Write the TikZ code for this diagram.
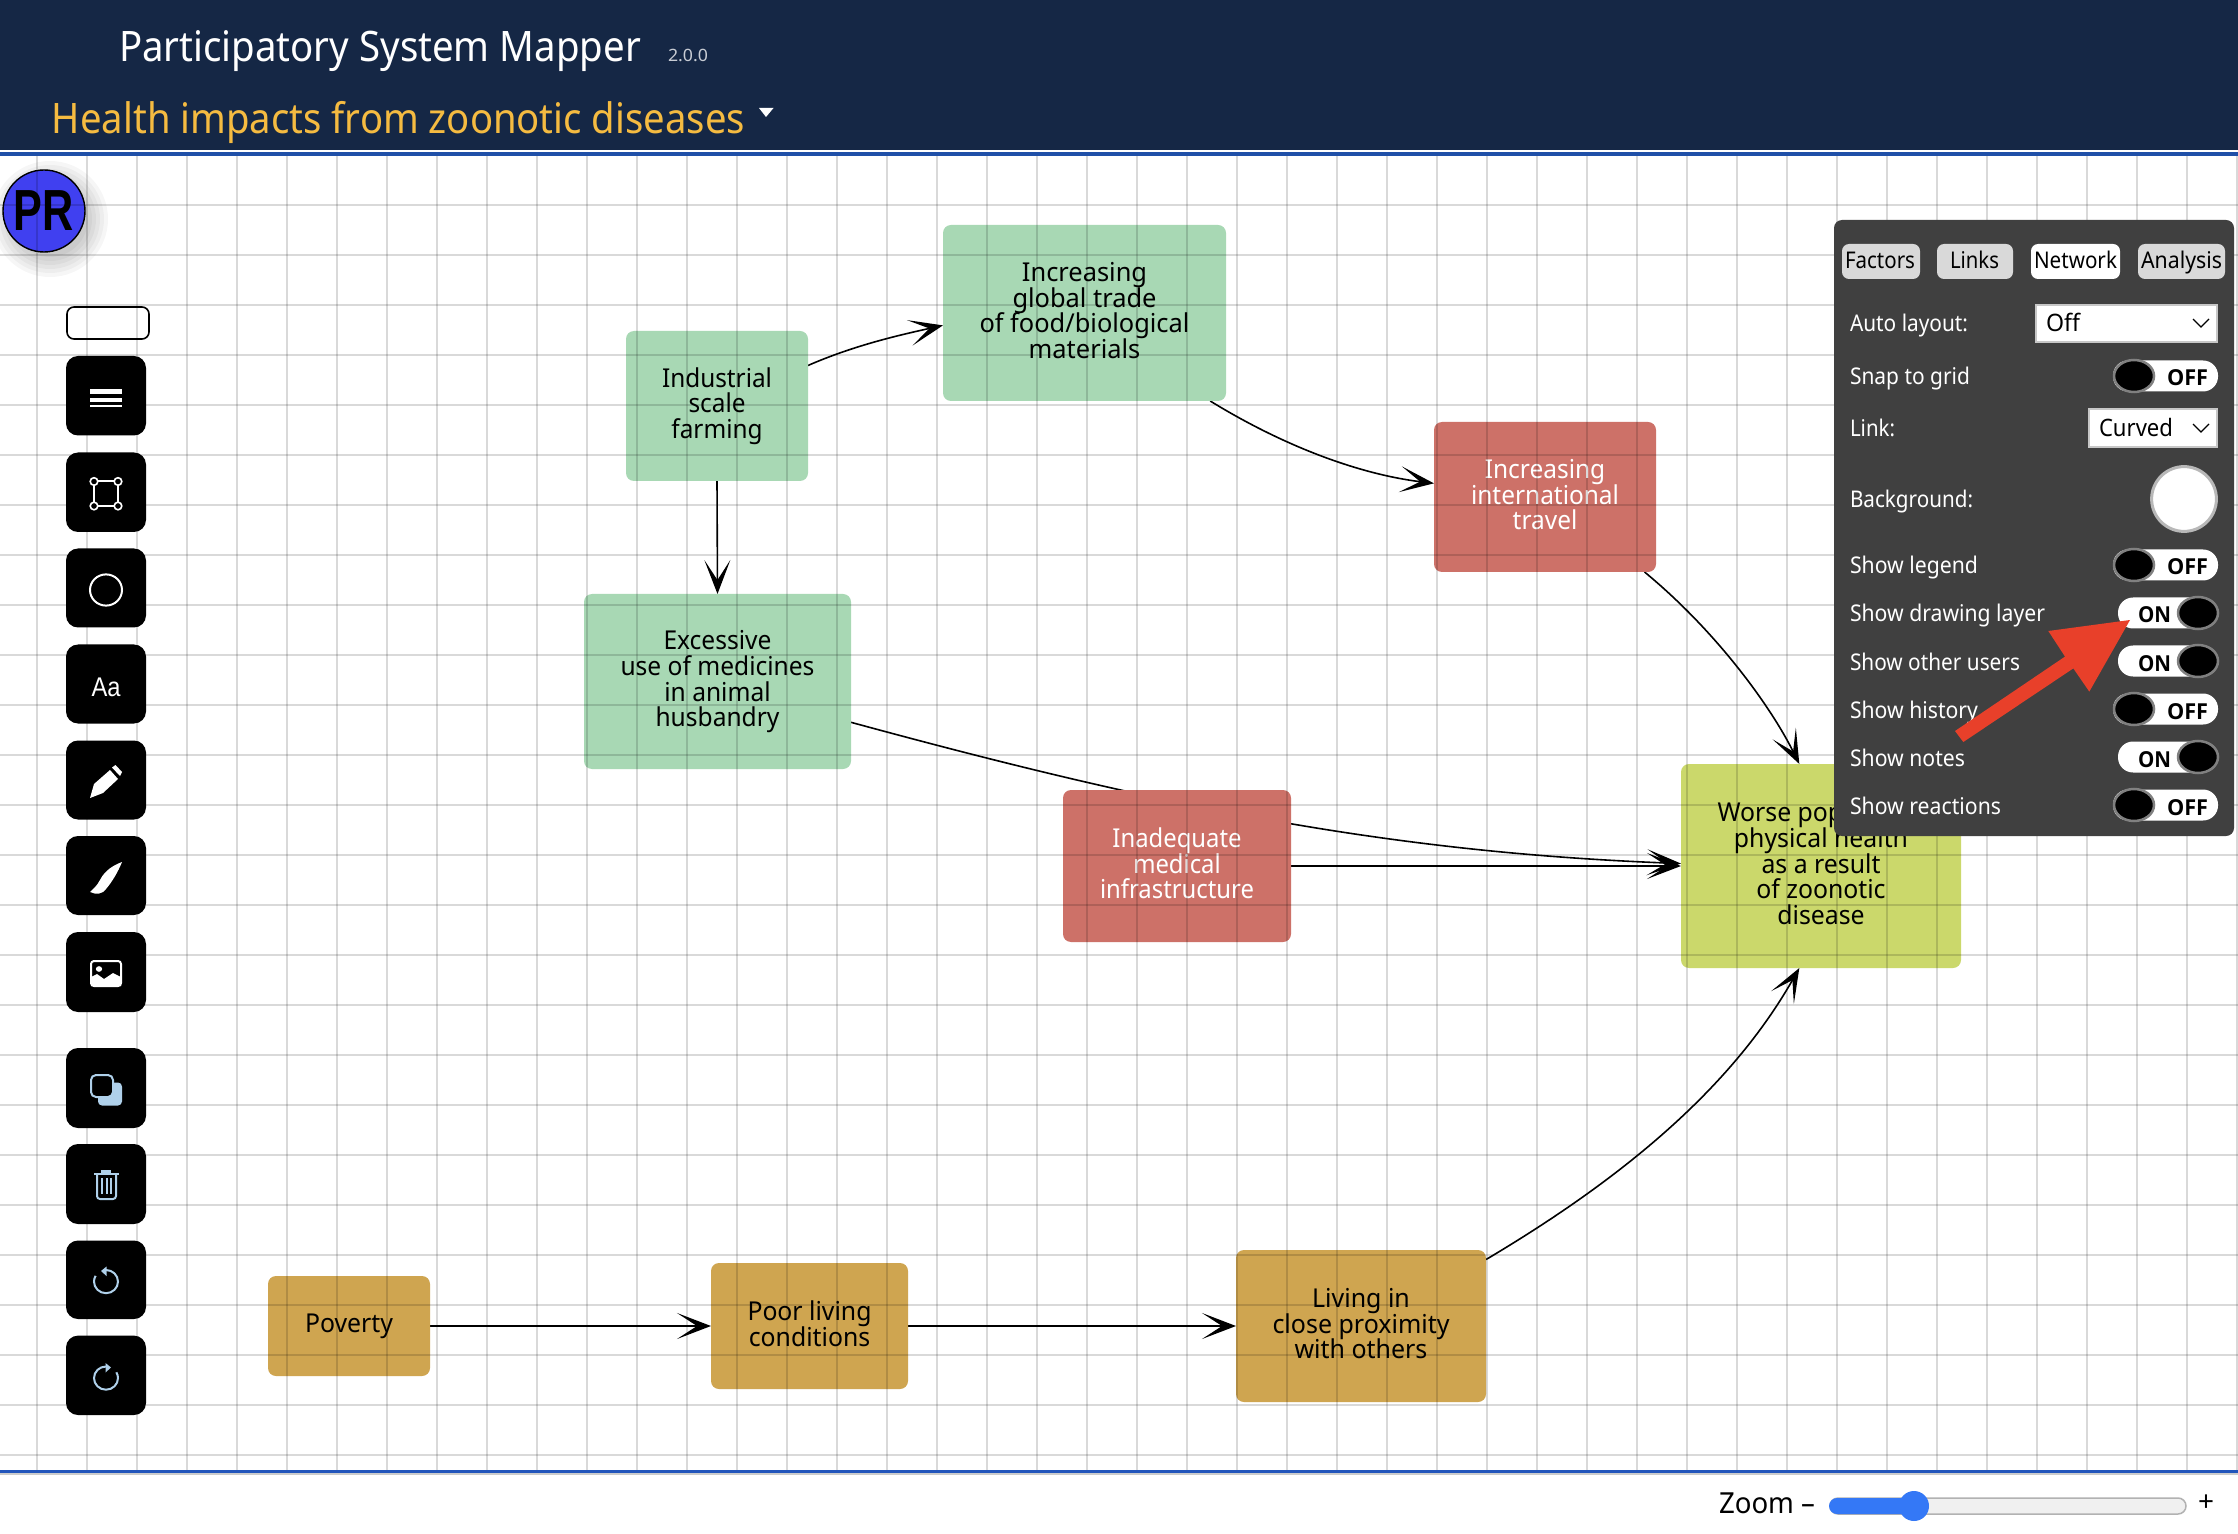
\documentclass[tikz,border=0pt]{standalone}
\usepackage{fontspec}
\usepackage{graphicx}
\setmainfont{Noto Sans}
\newfontfamily\helv{Liberation Sans}
\newfontfamily\osans{Open Sans}
\usetikzlibrary{arrows.meta}
\definecolor{navy}{HTML}{152745}
\definecolor{topblue}{HTML}{2050A8}
\definecolor{botblue}{HTML}{2255BB}
\definecolor{goldtxt}{HTML}{F5BB41}
\definecolor{vertxt}{HTML}{C8CCD4}
\definecolor{fgreen}{HTML}{A8D8B4}
\definecolor{fred}{HTML}{CD7168}
\definecolor{flime}{HTML}{CBD86B}
\definecolor{fgold}{HTML}{CFA550}
\definecolor{panel}{HTML}{404040}
\definecolor{tabgrey}{HTML}{D9D9D9}
\definecolor{arrowred}{HTML}{E8402A}
\definecolor{iconblue}{HTML}{AFD0EA}
\definecolor{slideblue}{HTML}{3478F6}
\definecolor{prblue}{HTML}{4040F0}
\pgfdeclarelayer{bg}\pgfdeclarelayer{gridl}\pgfdeclarelayer{top}
\pgfsetlayers{bg,main,gridl,top}
\newsavebox\fitbox
\newcommand\fitw[2]{\sbox\fitbox{#2}\pgfmathsetmacro\rr{#1*0.5/\the\wd\fitbox}\scalebox{\rr}[1]{\usebox\fitbox}}
% name, x, baseline y, width px, size pt, colour, text
\newcommand\lbl[7]{\node[anchor=base west,inner sep=0pt,outer sep=0pt,text=#6] (#1) at (#2,#3) {\fontsize{#5}{#5}\selectfont\fitw{#4}{#7}};}
\newcommand\ftext[2]{\fontsize{13pt}{12.85pt}\selectfont\fitw{#1}{\vbox{\baselineskip=12.85pt\lineskiplimit=-100pt\let\\\cr\halign{\hfil##\hfil\vrule height 10pt depth 2.85pt width 0pt\cr #2\cr}}}}
% name, x1,y1,x2,y2,colour,textcolour,width,text
\newcommand\factor[9]{\node[factorbox,fill=#6,text=#7,minimum width=#4*0.5pt-#2*0.5pt,minimum height=#5*0.5pt-#3*0.5pt] (#1) at ({(#2+#4)/2},{(#3+#5)/2}) {\ftext{#8}{#9}};}
\newcommand\btn[2]{\fill[black,rounded corners=6pt] (66,#1) rectangle (146,#2);}
\newcommand\row[4]{\lbl{#1}{1850}{#2+1}{#3}{11.5}{white}{#4}}
\newcommand\togoff[2]{%
 \fill[white,rounded corners=7.5pt] (2113,#2-15.5) rectangle (2218,#2+15.5);
 \draw[black,fill=black,draw=black!50,line width=1.25pt] (2134,#2) ellipse [x radius=10pt,y radius=8pt];
 \lbl{#1}{2167}{#2+10}{41}{11}{black}{\osans\bfseries OFF}}
\newcommand\togon[2]{%
 \fill[white,rounded corners=7.5pt] (2118,#2-15.5) rectangle (2218,#2+15.5);
 \draw[black,fill=black,draw=black!50,line width=1.25pt] (2198,#2) ellipse [x radius=10pt,y radius=8pt];
 \lbl{#1}{2138}{#2+10}{33}{11}{black}{\osans\bfseries ON}}
\tikzset{
 factorbox/.style={rectangle,rounded corners=4pt,inner sep=0pt,outer sep=0pt,draw=none,align=center},
 link/.style={black,line width=0.8pt,-{Stealth[length=17pt,width=13pt,inset=10pt]}},
 tabbtn/.style={rounded corners=3.5pt},
 selectbox/.style={fill=white,draw=black!22,line width=1pt},
 chev/.style={black,line width=0.6pt},
 gridline/.style={black,opacity=0.15,line width=1.1pt},
 iconw/.style={white,line width=1pt},
 iconb/.style={iconblue,line width=1pt},
}
\begin{document}
\begin{tikzpicture}[x=0.5pt,y=-0.5pt]
\useasboundingbox (0,0) rectangle (2238,1534);
\begin{pgfonlayer}{bg}
\fill[white] (0,0) rectangle (2238,1534);
\end{pgfonlayer}
% shadow and avatar
\foreach \r in {29,27,...,19}{\fill[black,opacity=0.035] (50,219) circle[radius=\r pt];}
% factors
\factor{ind}{626}{331}{808}{481}{fgreen}{black}{110}{Industrial\\scale\\farming}
\factor{glob}{943}{225}{1226}{401}{fgreen}{black}{210}{Increasing\\global trade\\of food/biological\\materials}
\factor{intl}{1434}{422}{1656}{572}{fred}{white}{148}{Increasing\\international\\travel}
\factor{exc}{584}{594}{851}{769}{fgreen}{black}{194}{Excessive\\use of medicines\\in animal\\husbandry}
\factor{ina}{1063}{790}{1291}{942}{fred}{white}{154}{Inadequate\\medical\\infrastructure}
\factor{wor}{1681}{764}{1961}{968}{flime}{black}{207}{Worse population\\physical health\\as a result\\of zoonotic\\disease}
\factor{pov}{268}{1276}{430}{1376}{fgold}{black}{88}{Poverty}
\factor{poor}{711}{1263}{908}{1389}{fgold}{black}{124}{Poor living\\conditions}
\factor{liv}{1236}{1250}{1486}{1402}{fgold}{black}{177}{Living in\\close proximity\\with others}
% links
\begin{pgfonlayer}{bg}
\draw[link] (ind.24) .. controls (855,345) and (900,335) .. (glob.185.6);
\draw[link] (glob.-35) .. controls (1290,450) and (1365,475) .. (intl.173.8);
\draw[link] (intl.-37.1) .. controls (1715,630) and (1770,705) .. (wor.102);
\draw[link] (ind.south) -- (exc.north);
\draw[link] (exc.-17.3) .. controls (1151,804) and (1382,852) .. (wor.179.4);
\draw[link] (ina.east) -- (wor.west);
\draw[link] (pov.east) -- (poor.west);
\draw[link] (poor.east) -- (liv.west);
\draw[link] (liv.28.2) .. controls (1620,1180) and (1730,1090) .. (wor.258);
\end{pgfonlayer}
% avatar
\draw[fill=prblue,draw=black,line width=0.7pt] (44,211) ellipse [x radius=20.5pt,y radius=20.5pt];
\node[inner sep=0pt] (prtxt) at (44,211) {\helv\bfseries\fontsize{29}{29}\selectfont\fitw{60}{PR}};
% grid above factors
\begin{pgfonlayer}{gridl}
\foreach \x in {37,87,...,2237}{\draw[gridline] (\x,156) -- (\x,1471);}
\foreach \y in {205,255,...,1455}{\draw[gridline] (0,\y) -- (2238,\y);}
\end{pgfonlayer}
\begin{pgfonlayer}{top}
% header
\fill[navy] (0,0) rectangle (2238,150);
\fill[white] (0,150) rectangle (2238,152);
\fill[topblue] (0,152) rectangle (2238,156);
\lbl{title}{119}{62}{522}{21}{white}{Participatory System Mapper}
\lbl{version}{668}{62}{40}{8.5}{vertxt}{2.0.0}
\lbl{mapname}{52}{134}{693}{21}{goldtxt}{Health impacts from zoonotic diseases}
\fill[white] (759,108) -- (773.5,108) -- (766,117) -- cycle;
% bottom
\fill[white] (0,1471) rectangle (2238,1534);
\fill[black!20] (0,1472) rectangle (2238,1475);
\fill[botblue] (0,1470) rectangle (2238,1472.5);
\lbl{zoomtxt}{1719}{1513}{96}{14.5}{black}{Zoom –}
\draw[fill=black!6,draw=black!30,line width=0.75pt,rounded corners=4pt] (1830,1498) rectangle (2186,1514);
\fill[slideblue,rounded corners=4pt] (1829,1498) rectangle (1914,1514);
\fill[slideblue] (1914,1506) circle[radius=7.5pt];
\node[inner sep=0pt,font=\fontsize{14}{14}\selectfont] (plus) at (2206,1503) {+};
% toolbar
\draw[draw=black,line width=0.8pt,rounded corners=3.5pt] (67,307) rectangle (149,339);
\btn{356}{435.5}\btn{452.5}{532}\btn{548.5}{627.5}\btn{644.5}{723.5}\btn{740.5}{819.5}\btn{836}{915}\btn{932}{1012}
\btn{1048}{1128}\btn{1144}{1224}\btn{1240.5}{1319}\btn{1335.6}{1415}
% menu
\fill[white] (90,389) rectangle (122,394);
\fill[white] (90,398) rectangle (122,402);
\fill[white] (90,405.5) rectangle (122,407.5);
% rectangle tool
\draw[iconw,fill=none] (94,481.5) rectangle (118,506);
\foreach \p in {(94,481.5),(118,481.5),(94,506),(118,506)}{\draw[white,fill=black,line width=0.8pt] \p circle[radius=1.9pt];}
% circle tool
\draw[iconw] (106,590) ellipse [x radius=8pt,y radius=7.8pt];
% text tool
\node[inner sep=0pt,text=white] (aatxt) at (106,687) {\helv\fontsize{13.5}{13.5}\selectfont\fitw{29}{Aa}};
% pencil
\fill[white] (90,798) -- (94,784) -- (110,770) -- (118,779) -- (103,793) -- cycle;
\fill[white] (112,767.5) -- (115.5,765) -- (122,772) -- (120,776) -- cycle;
% brush
\fill[white] (122,862) .. controls (114,865) and (105,870) .. (100,880) .. controls (97,886) and (93,889) .. (90,892) .. controls (96,895) and (103,894) .. (106,889) .. controls (112,882) and (118,872) .. (122,862) -- cycle;
% image
\draw[iconw,rounded corners=1.5pt] (91,961) rectangle (121,986);
\fill[white] (99,969) ellipse [x radius=1.6pt,y radius=1.4pt];
\fill[white] (91,986) -- (91,977) -- (97,974) -- (104,979) -- (113,973) -- (121,977) -- (121,986) -- cycle;
% duplicate
\fill[iconblue,rounded corners=2pt] (98,1082.5) rectangle (122,1105.5);
\draw[iconb,fill=black,rounded corners=2.5pt] (91,1075) rectangle (113,1097);
% trash
\draw[iconb,fill=none] (94,1173.5) -- (118.5,1173.5);
\fill[iconblue] (101,1173) rectangle (111,1170);
\draw[iconb,rounded corners=1.5pt] (97,1174) -- (97,1199) -- (116,1199) -- (116,1174);
\draw[iconb] (102,1178) -- (102,1194) (106.5,1178) -- (106.5,1194) (111,1178) -- (111,1194);
% undo
\draw[iconb] (106,1270) arc[start angle=90,end angle=-210,x radius=6pt,y radius=5.8pt];
\fill[iconblue] (101,1271) -- (106.5,1266.5) -- (106.5,1276) -- cycle;
% redo
\draw[iconb] (106,1366.5) arc[start angle=90,end angle=390,x radius=6pt,y radius=5.8pt];
\fill[iconblue] (111,1367.5) -- (105.5,1363) -- (105.5,1372.5) -- cycle;
% panel
\fill[panel,rounded corners=4pt] (1834,220) rectangle (2234,836);
\foreach \a/\b/\c in {1842/1920/tabgrey,1937/2013/tabgrey,2031/2120/white,2138/2225/tabgrey}{
 \fill[\c,tabbtn] (\a,244) rectangle (\b,279);}
\lbl{tabf}{1845}{269}{70}{11.5}{black}{Factors}
\lbl{tabl}{1950}{269}{49}{11.5}{black}{Links}
\lbl{tabn}{2034}{269}{83}{11.5}{black}{Network}
\lbl{taba}{2141}{269}{81}{11.5}{black}{Analysis}
\row{rauto}{331}{118}{Auto layout:}
\draw[selectbox] (2036,305) rectangle (2217,342);
\lbl{soff}{2046}{332}{34}{12}{black}{Off}
\draw[chev] (2193,319) -- (2201,327) -- (2209,319);
\row{rsnap}{384}{120}{Snap to grid}
\togoff{tsnap}{376}
\row{rlink}{436}{45}{Link:}
\draw[selectbox] (2089,409) rectangle (2217,447);
\lbl{scurved}{2099}{437}{74}{12}{black}{Curved}
\draw[chev] (2193,424) -- (2201,432) -- (2209,424);
\row{rback}{507}{123}{Background:}
\draw[fill=white,draw=black!28,line width=1.5pt] (2184,499) circle[radius=16.2pt];
\row{rleg}{573}{128}{Show legend}
\togoff{tleg}{565}
\row{rdraw}{621}{195}{Show drawing layer}
\togon{tdraw}{613}
\row{roth}{669}{170}{Show other users}
\togon{toth}{661}
\row{rhist}{717}{128}{Show history}
\togoff{thist}{709}
\row{rnote}{765}{115}{Show notes}
\togon{tnote}{757}
\row{rreac}{813}{151}{Show reactions}
\togoff{treac}{805}
% red arrow
\fill[arrowred] (2130,620) -- (2048.3,631) -- (2065,656.6) -- (1955,731) -- (1963.3,742) -- (2073.3,668.4) -- (2089.3,691.6) -- cycle;
\end{pgfonlayer}
\end{tikzpicture}
\end{document}
